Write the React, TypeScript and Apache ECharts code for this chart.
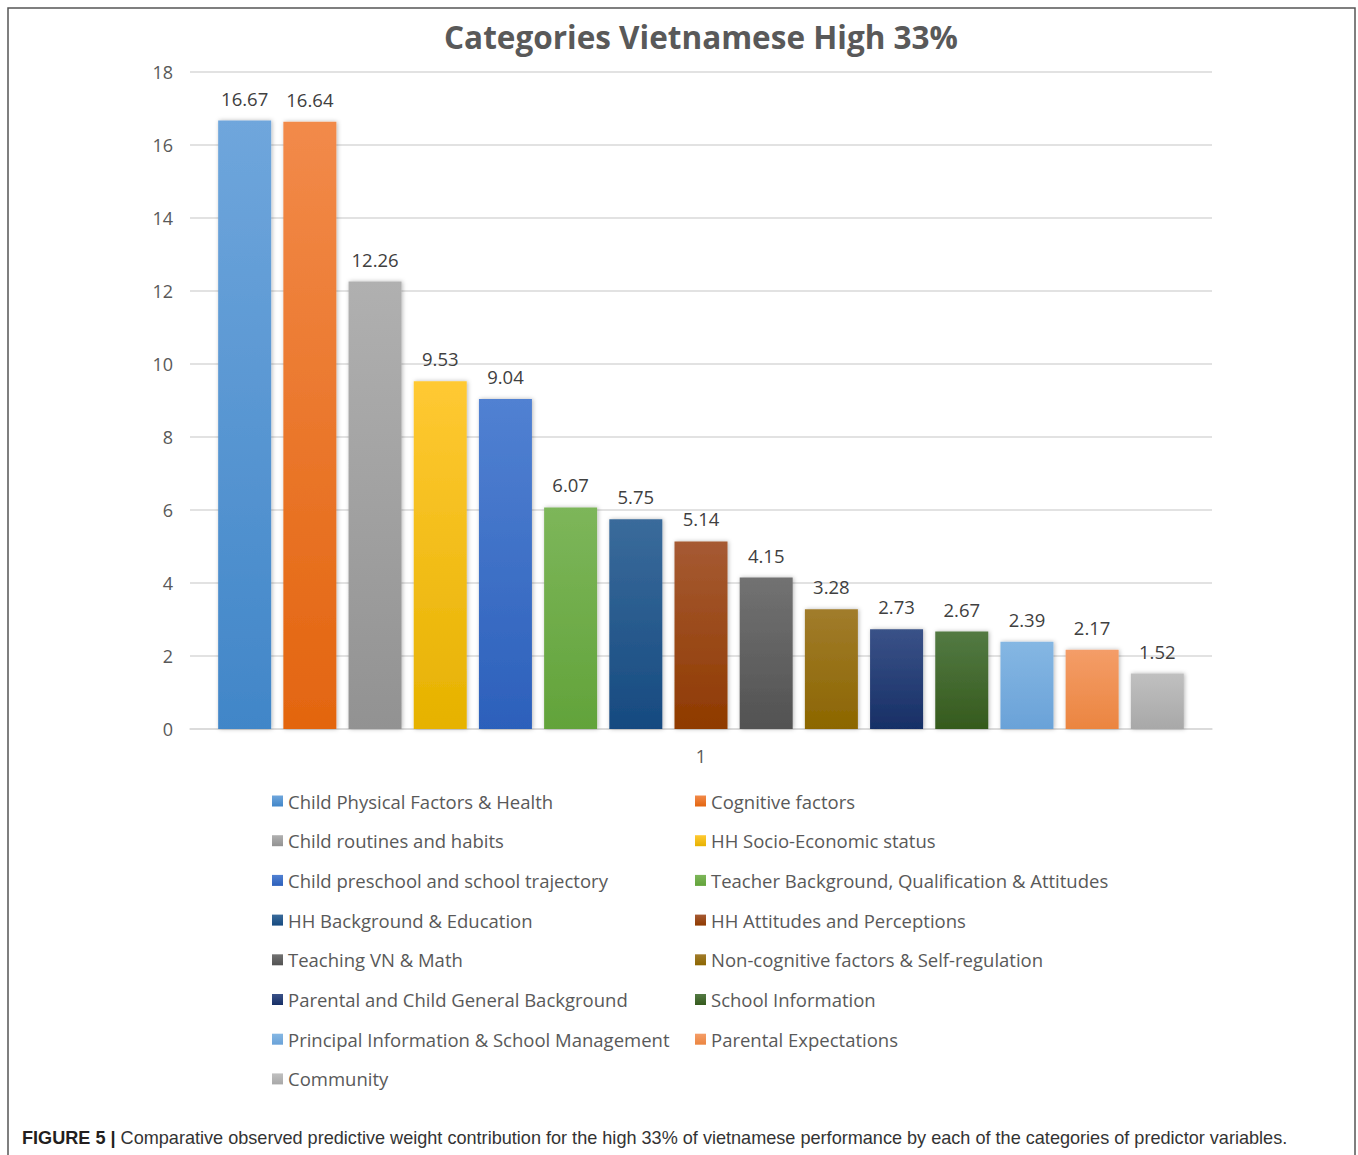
import React, { useEffect, useRef } from "react";
import * as echarts from "echarts";

// Predictor categories, in the order they are plotted
const categories = [
  "Child Physical Factors & Health",
  "Cognitive factors",
  "Child routines and habits",
  "HH Socio-Economic status",
  "Child preschool and school trajectory",
  "Teacher Background, Qualification & Attitudes",
  "HH Background & Education",
  "HH Attitudes and Perceptions",
  "Teaching VN & Math",
  "Non-cognitive factors & Self-regulation",
  "Parental and Child General Background",
  "School Information",
  "Principal Information & School Management",
  "Parental Expectations",
  "Community",
];

// Predictive weight contribution (%) for each category
const weights = [16.67, 16.64, 12.26, 9.53, 9.04, 6.07, 5.75, 5.14, 4.15, 3.28, 2.73, 2.67, 2.39, 2.17, 1.52];

// Single category on the x axis
const xLabels = ["1"];

// Bar fills: [top, bottom] of each vertical gradient
const barColors: [string, string][] = [
  ["#6fa6dc", "#4186c8"],
  ["#f28a4a", "#e3650f"],
  ["#b0b0b0", "#929292"],
  ["#ffc933", "#e6b200"],
  ["#5181d2", "#2c60bb"],
  ["#7db65a", "#62a33a"],
  ["#3a6b9b", "#164a80"],
  ["#a65a33", "#8f3a00"],
  ["#727272", "#525252"],
  ["#a17c2c", "#8c6600"],
  ["#3a5288", "#172f66"],
  ["#537a43", "#355a1d"],
  ["#85b7e3", "#6aa2d8"],
  ["#f49d68", "#eb8540"],
  ["#c0c0c0", "#a8a8a8"],
];

const legendSwatch = [
  "#5b9bd5", "#ed7d31", "#a5a5a5", "#ffc000", "#4472c4", "#70ad47", "#255e91",
  "#9e480e", "#636363", "#997300", "#264478", "#43682b", "#7cafdd", "#f1975a", "#b7b7b7",
];

const FONT = "'Open Sans', 'Noto Sans', sans-serif";

export default function App() {
  const ref = useRef<HTMLDivElement>(null);

  useEffect(() => {
    if (!ref.current) return;
    const chart = echarts.init(ref.current, null, { renderer: "svg" });

    const series = categories.map((name, i) => ({
      name,
      type: "bar" as const,
      data: [weights[i]],
      barWidth: 53,
      barGap: "23%",
      color: legendSwatch[i],
      itemStyle: {
        color: new echarts.graphic.LinearGradient(0, 0, 0, 1, [
          { offset: 0, color: barColors[i][0] },
          { offset: 1, color: barColors[i][1] },
        ]),
        shadowBlur: 4,
        shadowColor: "rgba(0,0,0,0.28)",
        shadowOffsetX: 1,
        shadowOffsetY: 0,
      },
      label: {
        show: true,
        position: "top" as const,
        distance: 13,
        fontFamily: FONT,
        fontSize: 18.5,
        color: "#404040",
        formatter: (p: any) => Number(p.value).toFixed(2),
      },
    }));

    const legendBase = {
      orient: "vertical" as const,
      top: 791,
      padding: 0,
      icon: "rect",
      itemWidth: 11,
      itemHeight: 11,
      itemGap: 19.7,
      selectedMode: false,
      textStyle: {
        fontFamily: FONT,
        fontSize: 18.5,
        color: "#595959",
        lineHeight: 20,
      },
    };

    chart.setOption({
      animation: false,
      backgroundColor: "#ffffff",
      title: {
        text: "Categories Vietnamese High 33%",
        left: 696,
        textAlign: "center",
        top: 15,
        textStyle: {
          fontFamily: FONT,
          fontSize: 31.5,
          fontWeight: "bold",
          color: "#595959",
        },
      },
      legend: [
        { ...legendBase, left: 272, data: categories.filter((_, i) => i % 2 === 0) },
        { ...legendBase, left: 695, data: categories.filter((_, i) => i % 2 === 1) },
      ],
      grid: { left: 190, right: 146, top: 72, bottom: 426, containLabel: false },
      xAxis: {
        type: "category",
        data: xLabels,
        axisLine: { lineStyle: { color: "#d9d9d9", width: 1.5 } },
        axisTick: { show: false },
        axisLabel: { fontFamily: FONT, fontSize: 18, color: "#595959", margin: 18 },
      },
      yAxis: {
        type: "value",
        min: 0,
        max: 18,
        interval: 2,
        axisLine: { show: false },
        axisTick: { show: false },
        axisLabel: { fontFamily: FONT, fontSize: 18, color: "#595959", margin: 17 },
        splitLine: { lineStyle: { color: "#d9d9d9", width: 1.5 } },
      },
      series,
      graphic: [
        {
          type: "rect",
          shape: { x: 8, y: 8, width: 1347, height: 1160 },
          style: { fill: "none", stroke: "#555555", lineWidth: 1.5 },
          silent: true,
        },
        {
          type: "text",
          x: 22,
          y: 1138,
          style: {
            text: "{b|FIGURE 5 |} Comparative observed predictive weight contribution for the high 33% of vietnamese performance by each of the categories of predictor variables.",
            fontFamily: "'Liberation Sans', Arial, sans-serif",
            fontSize: 18.1,
            fill: "#333333",
            verticalAlign: "middle",
            rich: {
              b: {
                fontFamily: "'Liberation Sans', Arial, sans-serif",
                fontSize: 18.1,
                fontWeight: "bold",
                fill: "#231f20",
              },
            },
          },
        },
      ],
    });

    return () => chart.dispose();
  }, []);

  return (
    <div
      ref={ref}
      style={{ position: "absolute", left: 0, top: 0, width: 1358, height: 1155 }}
    />
  );
}
